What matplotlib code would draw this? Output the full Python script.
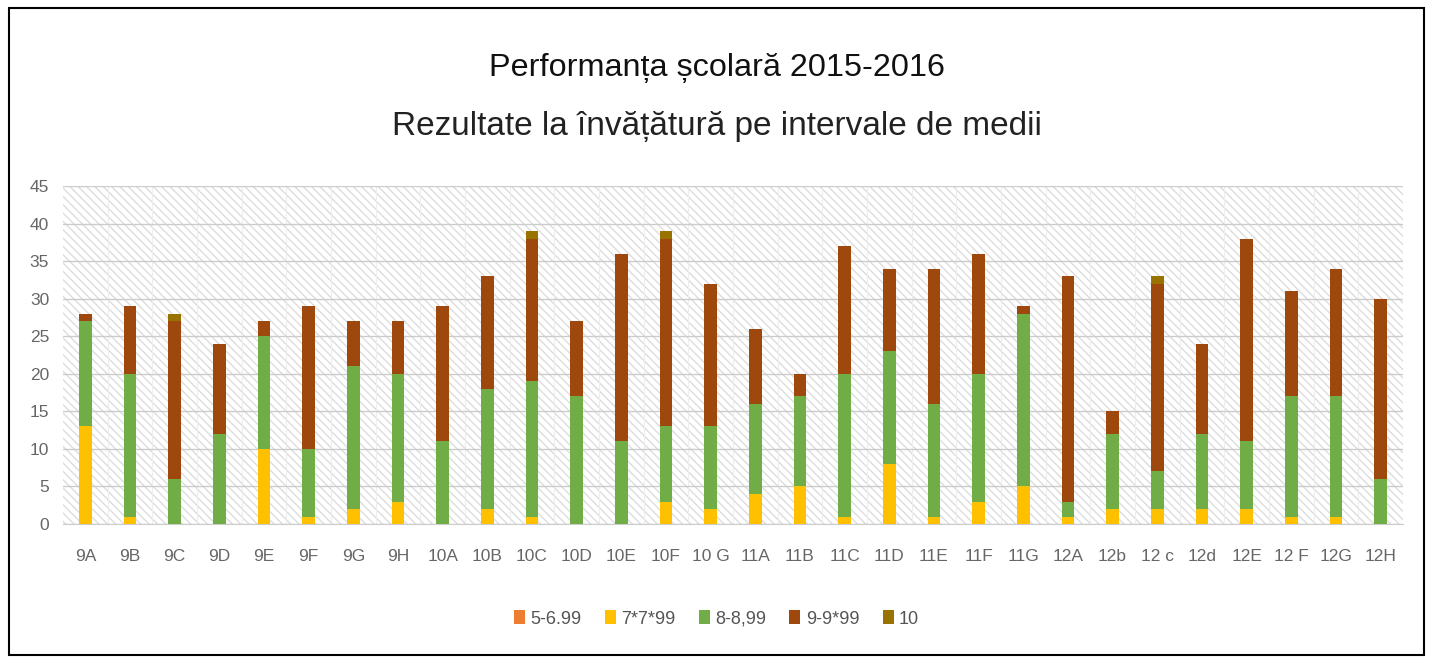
import numpy as np
import matplotlib.pyplot as plt
from matplotlib.patches import Rectangle

# date
clase = ['9A', '9B', '9C', '9D', '9E', '9F', '9G', '9H', '10A', '10B', '10C', '10D',
         '10E', '10F', '10 G', '11A', '11B', '11C', '11D', '11E', '11F', '11G',
         '12A', '12b', '12 c', '12d', '12E', '12 F', '12G', '12H']
s5_699 = [0] * 30
s7_799 = [13, 1, 0, 0, 10, 1, 2, 3, 0, 2, 1, 0, 0, 3, 2, 4, 5, 1, 8, 1, 3, 5,
          1, 2, 2, 2, 2, 1, 1, 0]
s8_899 = [14, 19, 6, 12, 15, 9, 19, 17, 11, 16, 18, 17, 11, 10, 11, 12, 12, 19, 15, 15, 17, 23,
          2, 10, 5, 10, 9, 16, 16, 6]
s9_999 = [1, 9, 21, 12, 2, 19, 6, 7, 18, 15, 19, 10, 25, 25, 19, 10, 3, 17, 11, 18, 16, 1,
          30, 3, 25, 12, 27, 14, 17, 24]
s10 = [0, 0, 1, 0, 0, 0, 0, 0, 0, 0, 1, 0, 0, 1, 0, 0, 0, 0, 0, 0, 0, 0,
       0, 0, 1, 0, 0, 0, 0, 0]
etichete = ['5-6.99', '7*7*99', '8-8,99', '9-9*99', '10']
culori = ['#ED7D31', '#FFC000', '#70AD47', '#9E480E', '#997300']

plt.rcParams['font.family'] = ['Liberation Sans', 'DejaVu Sans']

fig = plt.figure(figsize=(14.33, 6.6), dpi=100)
ax = fig.add_axes([0.044, 0.206, 0.935, 0.512])

x = np.arange(len(clase))
bottom = np.zeros(len(clase))
for vals, lab, c in zip([s5_699, s7_799, s8_899, s9_999, s10], etichete, culori):
    ax.bar(x, vals, 0.28, bottom=bottom, color=c, label=lab, zorder=3)
    bottom += np.array(vals)

ax.set_xlim(-0.5, len(clase) - 0.5)
ax.set_ylim(0, 45)
ax.set_yticks(range(0, 46, 5))
ax.set_xticks(x)
ax.set_xticklabels(clase)
ax.tick_params(axis='both', length=0, labelsize=12.5, colors='#666666')
ax.tick_params(axis='x', pad=18)
ax.tick_params(axis='y', pad=10)

# fundal hasurat
ax.patch.set_facecolor('white')
ax.add_patch(Rectangle((0, 0), 1, 1, transform=ax.transAxes, facecolor='none',
                       edgecolor='#dddddd', hatch='\\\\\\\\', lw=0, zorder=0))
ax.grid(axis='y', color='#cccccc', lw=1, zorder=1)
for xv in np.arange(0.5, len(clase) - 1, 1):
    ax.axvline(xv, color='#eeeeee', lw=0.8, zorder=1)
for s in ['top', 'right', 'left']:
    ax.spines[s].set_visible(False)
ax.spines['bottom'].set_color('#cccccc')

fig.text(0.5, 0.897, 'Performanța școlară 2015-2016', ha='center', va='center',
         fontsize=23.3, color='#111111')
fig.text(0.5, 0.808, 'Rezultate la învățătură pe intervale de medii', ha='center',
         va='center', fontsize=24, color='#222222')

ax.legend(loc='center', ncol=5, frameon=False, fontsize=13, handlelength=0.6,
          handleheight=0.8, handletextpad=0.3, columnspacing=1.3, labelcolor='#555555')
ax.get_legend().set_bbox_to_anchor((0.5, 0.062), transform=fig.transFigure)

# chenar negru
fig.patches.append(Rectangle((0.006, 0.008), 0.988, 0.98, transform=fig.transFigure,
                             facecolor='none', edgecolor='black', lw=1.5))

plt.savefig('out.png', dpi=100)
